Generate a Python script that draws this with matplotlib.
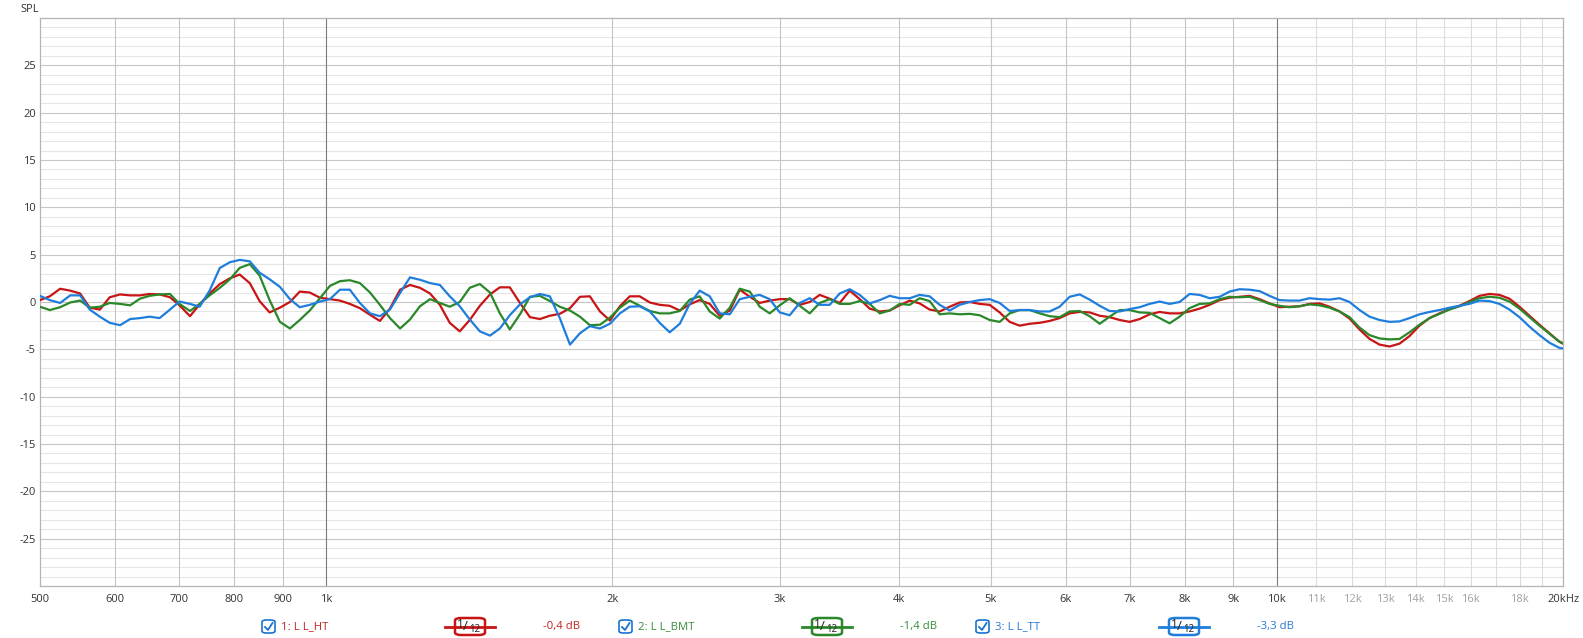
import matplotlib
matplotlib.use('Agg')
import matplotlib.pyplot as plt
from matplotlib.patches import FancyBboxPatch
from matplotlib.lines import Line2D
from matplotlib.ticker import FixedLocator, NullLocator

plt.rcParams['font.family'] = ['Open Sans', 'DejaVu Sans']

# frequency points (Hz)
freq = [500, 512, 525, 538, 551, 564, 578, 592, 607, 622,
        637, 652, 668, 685, 701, 719, 736, 754, 773, 792,
        811, 831, 851, 872, 894, 916, 938, 961, 985, 1009,
        1034, 1059, 1085, 1112, 1139, 1167, 1196, 1225, 1255, 1286,
        1317, 1349, 1382, 1416, 1451, 1487, 1523, 1560, 1599, 1638,
        1678, 1719, 1761, 1805, 1849, 1894, 1941, 1988, 2037, 2086,
        2137, 2190, 2243, 2298, 2355, 2412, 2471, 2532, 2594, 2658,
        2723, 2790, 2858, 2928, 3000, 3073, 3149, 3226, 3305, 3386,
        3469, 3554, 3641, 3730, 3822, 3915, 4011, 4110, 4210, 4313,
        4419, 4528, 4639, 4752, 4869, 4988, 5110, 5236, 5364, 5496,
        5630, 5768, 5910, 6054, 6203, 6355, 6511, 6670, 6834, 7001,
        7173, 7349, 7529, 7713, 7902, 8096, 8294, 8498, 8706, 8919,
        9138, 9362, 9591, 9826, 10067, 10314, 10566, 10825, 11091, 11362,
        11641, 11926, 12218, 12518, 12824, 13139, 13461, 13790, 14128, 14475,
        14829, 15193, 15565, 15946, 16337, 16737, 17147, 17568, 17998, 18439,
        18891, 19354, 19828, 20000]

# 1: L L_HT (red)
spl_ht = [0.2, 0.6, 1.4, 1.2, 0.9, -0.6, -0.8, 0.5, 0.8, 0.7,
          0.7, 0.85, 0.8, 0.5, -0.35, -1.5, -0.25, 0.9, 1.9, 2.5,
          2.9, 2.0, 0.1, -1.1, -0.6, 0.0, 1.1, 1.0, 0.45, 0.3,
          0.15, -0.2, -0.65, -1.35, -2.0, -0.7, 1.3, 1.8, 1.5, 0.9,
          -0.3, -2.2, -3.1, -1.9, -0.4, 0.8, 1.55, 1.55, -0.1, -1.6,
          -1.8, -1.45, -1.25, -0.65, 0.55, 0.6, -1.0, -1.95, -0.45, 0.6,
          0.6, -0.05, -0.3, -0.4, -0.9, -0.25, 0.2, -0.2, -1.45, -0.9,
          1.3, 0.55, -0.1, 0.15, 0.3, 0.3, -0.3, 0.0, 0.75, 0.35,
          -0.1, 1.2, 0.3, -0.7, -1.0, -0.9, -0.35, 0.15, -0.15, -0.8,
          -1.0, -0.5, -0.05, 0.0, -0.2, -0.3, -1.1, -2.1, -2.5, -2.3,
          -2.2, -2.0, -1.7, -1.2, -1.05, -1.1, -1.45, -1.6, -1.9, -2.1,
          -1.8, -1.3, -1.05, -1.2, -1.2, -1.0, -0.7, -0.3, 0.2, 0.45,
          0.55, 0.65, 0.3, -0.15, -0.55, -0.5, -0.45, -0.2, -0.15, -0.5,
          -1.0, -1.75, -2.9, -3.9, -4.5, -4.7, -4.4, -3.6, -2.5, -1.7,
          -1.2, -0.75, -0.4, 0.1, 0.65, 0.85, 0.75, 0.35, -0.5, -1.45,
          -2.4, -3.3, -4.2, -4.4]

# 2: L L_BMT (green)
spl_bmt = [-0.5, -0.85, -0.55, -0.05, 0.15, -0.6, -0.5, -0.1, -0.2, -0.35,
           0.35, 0.65, 0.8, 0.85, -0.2, -0.95, -0.2, 0.7, 1.5, 2.4,
           3.6, 4.0, 2.8, 0.2, -2.1, -2.8, -1.9, -0.9, 0.4, 1.7,
           2.2, 2.3, 2.0, 1.0, -0.3, -1.7, -2.8, -1.85, -0.45, 0.3,
           -0.1, -0.5, 0.0, 1.5, 1.9, 1.0, -1.2, -2.9, -1.3, 0.55,
           0.65, 0.1, -0.5, -0.9, -1.55, -2.45, -2.4, -1.65, -0.6, 0.15,
           -0.4, -0.95, -1.2, -1.2, -0.95, 0.25, 0.6, -1.0, -1.75, -0.6,
           1.4, 1.1, -0.5, -1.2, -0.35, 0.4, -0.4, -1.2, -0.1, 0.3,
           -0.2, -0.2, 0.1, -0.2, -1.2, -0.9, -0.2, -0.3, 0.4, 0.1,
           -1.3, -1.2, -1.3, -1.25, -1.4, -1.9, -2.1, -1.2, -0.85, -0.85,
           -1.2, -1.5, -1.6, -1.0, -0.95, -1.5, -2.3, -1.55, -0.85, -0.85,
           -1.1, -1.15, -1.7, -2.25, -1.55, -0.65, -0.2, -0.15, 0.3, 0.55,
           0.5, 0.55, 0.2, -0.2, -0.4, -0.55, -0.45, -0.25, -0.35, -0.6,
           -1.0, -1.6, -2.7, -3.5, -3.85, -3.95, -3.9, -3.2, -2.4, -1.7,
           -1.25, -0.8, -0.45, 0.0, 0.4, 0.55, 0.45, 0.05, -0.7, -1.6,
           -2.5, -3.35, -4.2, -4.35]

# 3: L L_TT (blue)
spl_tt = [0.65, 0.2, -0.1, 0.7, 0.7, -0.8, -1.55, -2.2, -2.45, -1.8,
          -1.7, -1.55, -1.7, -0.8, 0.05, -0.2, -0.5, 1.2, 3.6, 4.2,
          4.45, 4.3, 3.1, 2.4, 1.6, 0.3, -0.55, -0.3, 0.05, 0.3,
          1.3, 1.3, -0.1, -1.2, -1.5, -0.8, 0.95, 2.6, 2.35, 2.0,
          1.8, 0.6, -0.45, -1.85, -3.1, -3.55, -2.8, -1.4, -0.25, 0.5,
          0.85, 0.6, -1.7, -4.5, -3.3, -2.55, -2.8, -2.3, -1.2, -0.5,
          -0.45, -1.0, -2.2, -3.2, -2.3, -0.2, 1.2, 0.6, -1.2, -1.3,
          0.3, 0.55, 0.75, 0.3, -1.1, -1.4, -0.1, 0.4, -0.3, -0.3,
          0.9, 1.35, 0.75, -0.15, 0.2, 0.65, 0.4, 0.4, 0.75, 0.6,
          -0.3, -0.9, -0.3, 0.0, 0.2, 0.3, -0.1, -0.95, -0.85, -0.85,
          -1.0, -1.0, -0.5, 0.55, 0.8, 0.25, -0.4, -0.95, -1.0, -0.75,
          -0.55, -0.2, 0.05, -0.2, 0.0, 0.85, 0.75, 0.4, 0.55, 1.1,
          1.35, 1.3, 1.15, 0.65, 0.2, 0.15, 0.15, 0.4, 0.3, 0.25,
          0.4, 0.0, -0.85, -1.55, -1.9, -2.1, -2.05, -1.7, -1.3, -1.05,
          -0.85, -0.6, -0.4, -0.2, 0.15, 0.1, -0.2, -0.8, -1.6, -2.6,
          -3.5, -4.3, -4.85, -4.9]

names = ['1: L L_HT', '2: L L_BMT', '3: L L_TT']
offsets = ['-0,4 dB', '-1,4 dB', '-3,3 dB']
line_colors = ['#c81414', '#2a882a', '#1f7ddc']
text_colors = ['#c02424', '#3a8c3a', '#2a78d0']

xtick_pos = [500, 600, 700, 800, 900, 1000, 2000, 3000, 4000, 5000, 6000,
             7000, 8000, 9000, 10000, 11000, 12000, 13000, 14000, 15000,
             16000, 18000, 20000]
xtick_lab = ['500', '600', '700', '800', '900', '1k', '2k', '3k', '4k', '5k',
             '6k', '7k', '8k', '9k', '10k', '11k', '12k', '13k', '14k', '15k',
             '16k', '18k', '20kHz']
ytick_pos = [-25, -20, -15, -10, -5, 0, 5, 10, 15, 20, 25]

W, H = 1583, 638
fig = plt.figure(figsize=(W / 100, H / 100), dpi=100)
ax = fig.add_axes([40 / W, (H - 586) / H, (1563 - 40) / W, (586 - 18) / H])
ax.set_xscale('log')
ax.set_xlim(500, 20000)
ax.set_ylim(-30, 30)

# grid
for d in range(-29, 30):
    ax.axhline(d, color='#c6c6c6' if d % 5 == 0 else '#e6e6e6', lw=0.8, zorder=0)
vgrid = [600, 700, 800, 900] + list(range(1000, 20000, 1000))
for f in vgrid:
    if f in (1000, 10000):
        c = '#7c7c7c'
    elif f > 10000:
        c = '#dcdcdc'
    else:
        c = '#c4c4c4'
    ax.axvline(f, color=c, lw=0.8, zorder=0)

for s in ax.spines.values():
    s.set_color('#b4b4b4')
    s.set_linewidth(0.9)

ax.xaxis.set_major_locator(FixedLocator(xtick_pos))
ax.xaxis.set_minor_locator(NullLocator())
ax.set_xticklabels(xtick_lab)
ax.set_yticks(ytick_pos)
ax.set_yticklabels([str(v) for v in ytick_pos])
ax.tick_params(axis='both', length=0, labelsize=8, labelcolor='#333333')
ax.tick_params(axis='x', pad=6)
ax.tick_params(axis='y', pad=3)
for lab in ax.get_xticklabels():
    t = lab.get_text()
    if t.endswith('k') and t not in ('1k', '2k', '3k', '4k', '5k', '6k', '7k',
                                     '8k', '9k', '10k'):
        lab.set_color('#a0a0a0')

series = [spl_ht, spl_bmt, spl_tt]
for vals, c in zip(series, line_colors):
    ax.plot(freq, vals, color=c, lw=1.6, zorder=3, solid_joinstyle='round',
            solid_capstyle='round')

fig.text(20 / W, 1 - 9 / H, 'SPL', fontsize=8, color='#333333', va='center')


def fx(x):
    return x / W


def fy(y):
    return 1 - y / H


# legend row
ly = 626.5
for i in range(3):
    b = 262 + i * 357
    cb = FancyBboxPatch((fx(b), fy(633)), 13 / W, 13 / H,
                        boxstyle='round,pad=0,rounding_size=0.003',
                        transform=fig.transFigure, fc='white', ec='#1a73d0',
                        lw=1.2)
    fig.add_artist(cb)
    fig.add_artist(Line2D([fx(b + 3), fx(b + 6), fx(b + 10.5)],
                          [fy(627), fy(630), fy(623)], color='#1a73d0', lw=1.3,
                          transform=fig.transFigure))
    fig.text(fx(b + 19), fy(ly), names[i], fontsize=8.2, color=text_colors[i],
             va='center', ha='left')
    lx = b + 183
    fig.add_artist(Line2D([fx(lx), fx(lx + 50)], [fy(ly), fy(ly)],
                          color=line_colors[i], lw=2, transform=fig.transFigure))
    box = FancyBboxPatch((fx(lx + 10), fy(635)), 30 / W, 17 / H,
                         boxstyle='round,pad=0,rounding_size=0.004',
                         transform=fig.transFigure, fc='white',
                         ec=line_colors[i], lw=1.8)
    fig.add_artist(box)
    fig.text(fx(lx + 15), fy(624.5), '1', fontsize=8.5, color='#222222',
             va='center', ha='center')
    fig.text(fx(lx + 20), fy(626.5), '/', fontsize=9.5, color='#222222',
             va='center', ha='center')
    fig.text(fx(lx + 30), fy(629), '12', fontsize=7, color='#222222',
             va='center', ha='center')
    fig.text(fx(b + 281), fy(ly), offsets[i], fontsize=8.2,
             color=text_colors[i], va='center', ha='left')

fig.savefig('out.png', dpi=100)
